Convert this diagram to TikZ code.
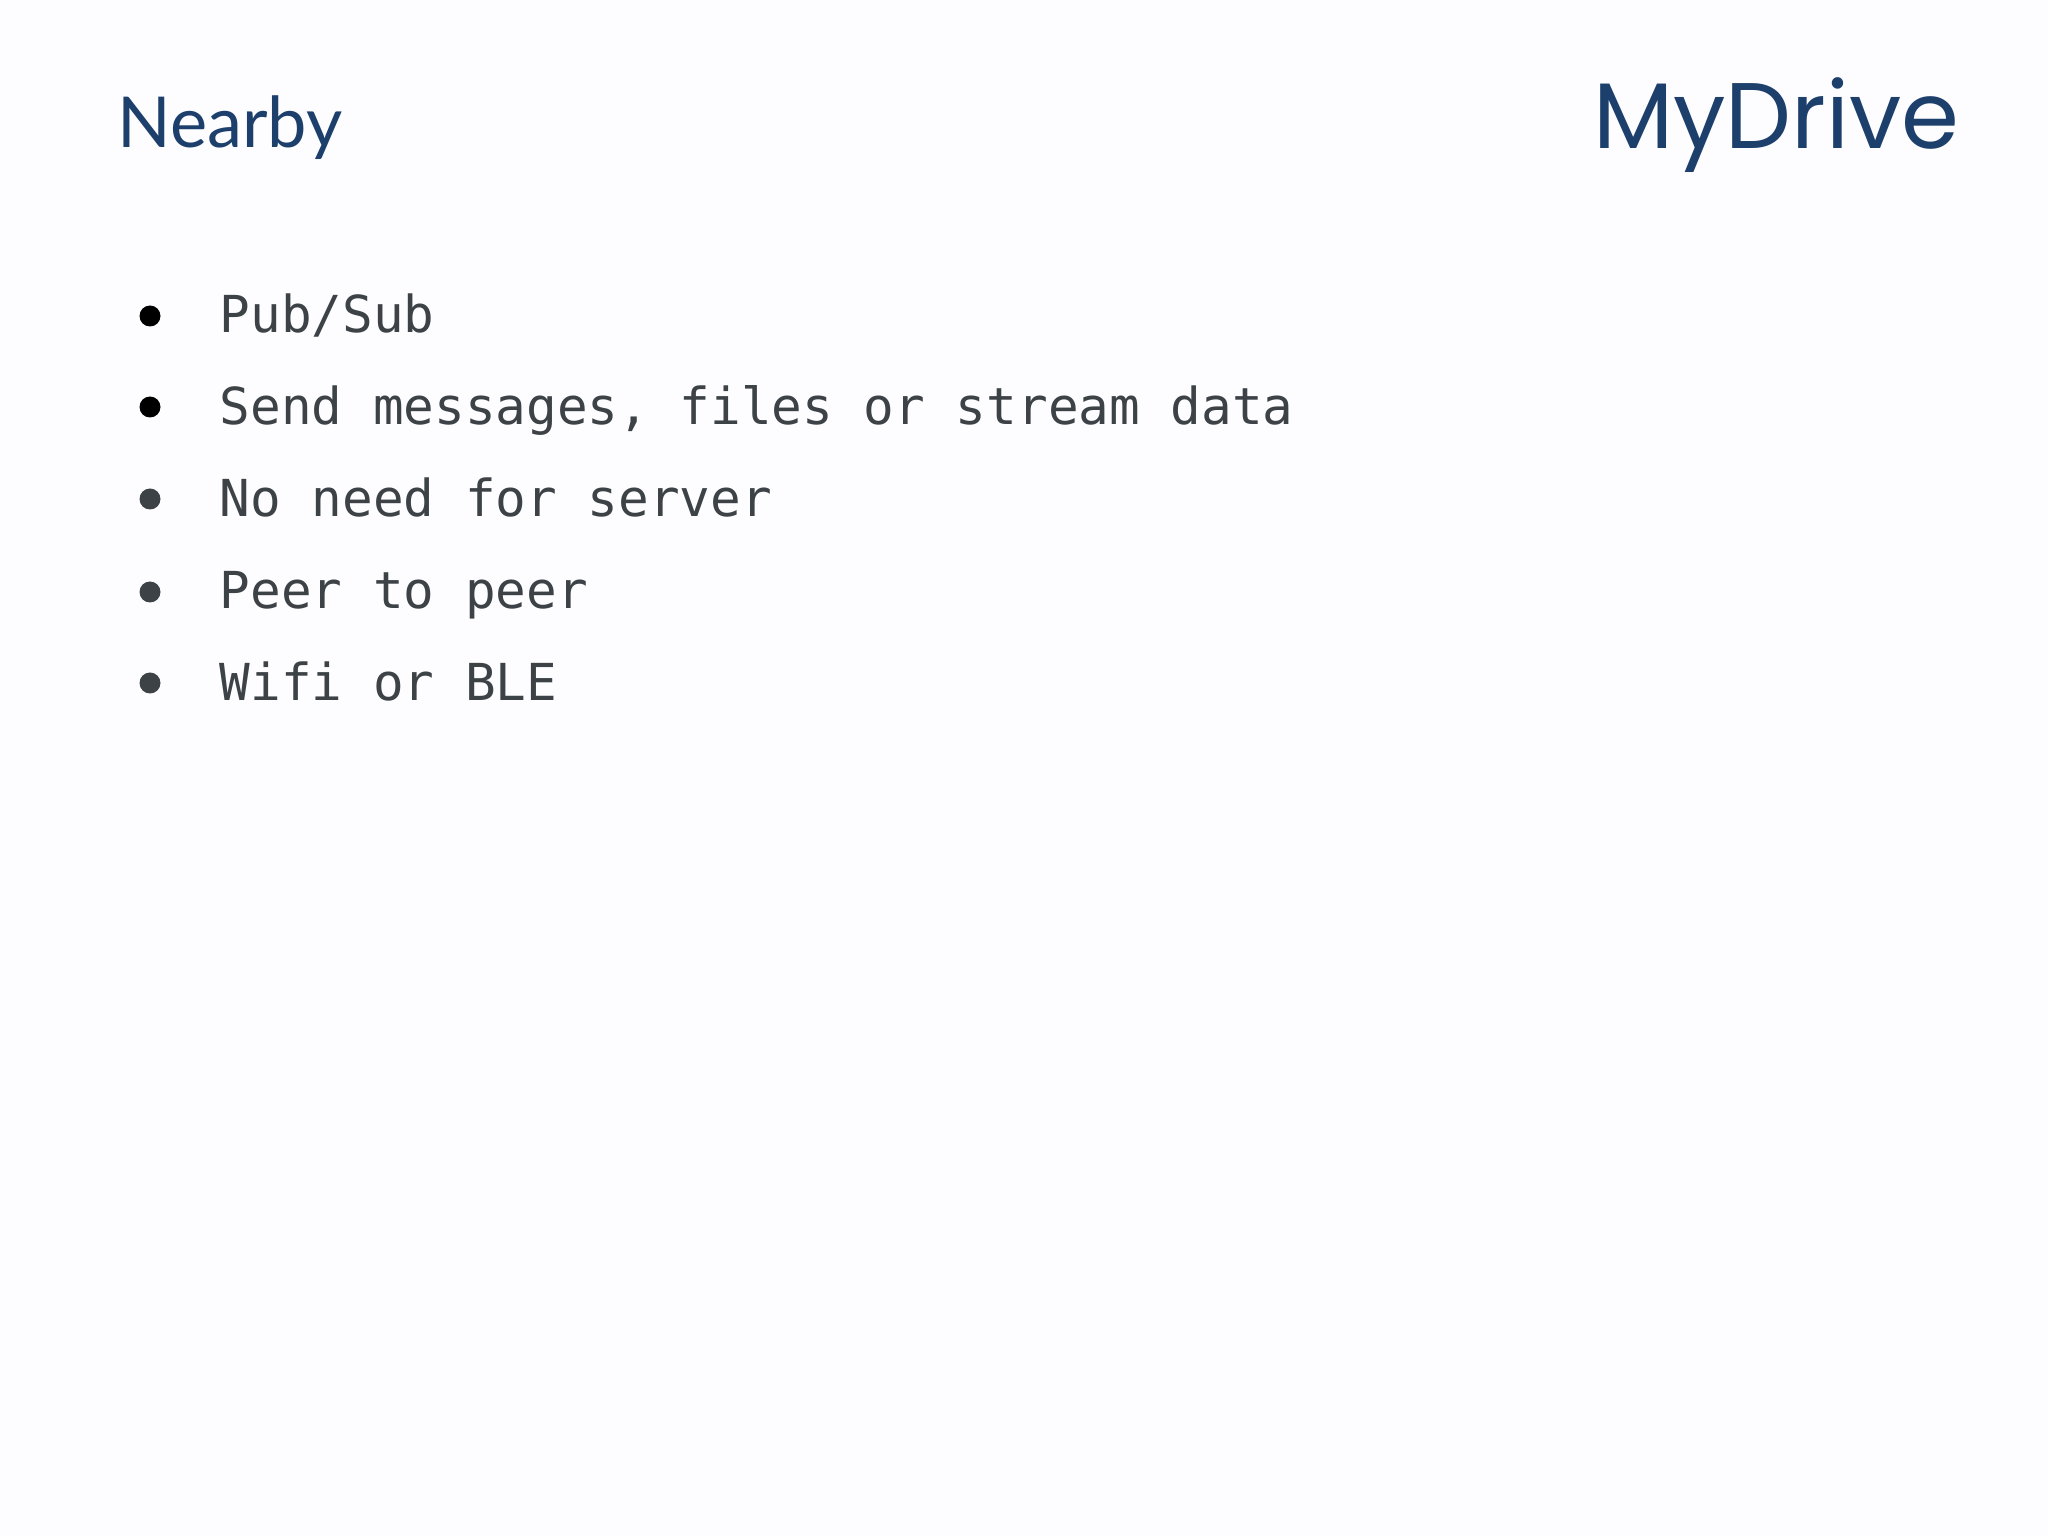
\documentclass[tikz,border=0pt]{standalone}
\usepackage{fontspec}
\setmainfont{Lato}
\newfontfamily\logofont{Poppins}
\newfontfamily\monofont{DejaVu Sans Mono}
\definecolor{navy}{HTML}{1C3F6C}
\definecolor{txt}{HTML}{3C4246}
\definecolor{bgc}{HTML}{FDFCFF}
\tikzset{item/.style={anchor=base west,inner sep=0pt,text=txt,font=\monofont\fontsize{14.5}{16}\selectfont},
dot/.style={circle,inner sep=0pt,minimum size=0.21cm}}
\begin{document}
\begin{tikzpicture}
\fill[bgc] (0,0) rectangle (20.48,-15.36);
\useasboundingbox (0,0) rectangle (20.48,-15.36);
\node[anchor=base west,inner sep=0pt,text=navy,font=\fontsize{20}{24}\selectfont] (title) at (1.17,-1.48) {Nearby};
\node[anchor=base east,inner sep=0pt,text=navy,font=\logofont\fontsize{26.5}{30}\selectfont] (logo) at (19.6,-1.49) {MyDrive};
\foreach \y/\t/\c [count=\i] in {3.33/{Pub/Sub}/black,4.24/{Send messages, files or stream data}/black,5.16/{No need for server}/txt,6.09/{Peer to peer}/txt,7.00/{Wifi or BLE}/txt}{
  \node[item] (t\i) at (2.19,-\y) {\t};
  \node[dot,fill=\c] (b\i) at (1.5,-\y+0.17) {};
}
\end{tikzpicture}
\end{document}
